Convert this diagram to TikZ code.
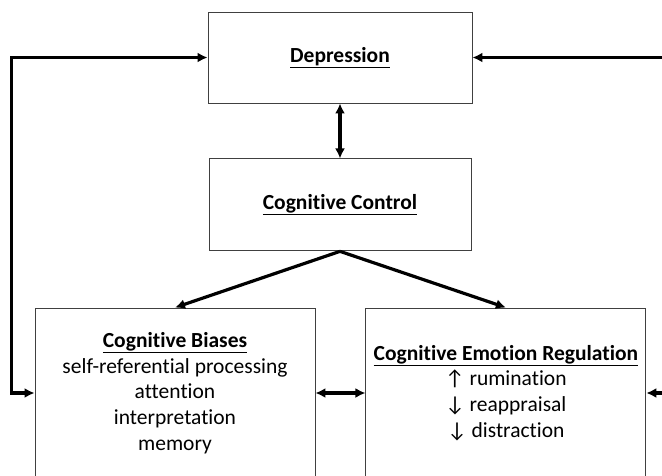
\documentclass[tikz,border=0pt]{standalone}
\usepackage{fontspec}
\setmainfont[Ligatures=NoCommon]{Carlito}
\usetikzlibrary{arrows.meta, positioning}

\begin{document}
\begin{tikzpicture}[x=1pt,y=-1pt,>={Latex[length=10pt,width=10pt]},
  box/.style={draw=black!75, line width=0.9pt, fill=white, align=center, inner sep=0pt,
    font=\fontsize{21.5}{25.8}\selectfont},
  conn/.style={line width=3.2pt}]
\clip (0,0) rectangle (662,475);
%Boxes
\node (d) [box, minimum width=264pt, minimum height=91pt] at (340,57.5) {\underline{\textbf{Depression}}};
\node (c) [box, minimum width=262pt, minimum height=92pt, below=55pt of d] {\underline{\textbf{Cognitive Control}}};
\node (b) [box, minimum width=280pt, minimum height=170pt] at (175,393) {\underline{\textbf{Cognitive Biases}}\\ self-referential processing\\ attention\\ interpretation\\ memory};
\node (e) [box, minimum width=280pt, minimum height=170pt, right=50pt of b] {\underline{\textbf{Cognitive Emotion Regulation}}\\ ↑ rumination\\ ↓ reappraisal\\ ↓ distraction};
\coordinate (rd) at (665,57.5);
\coordinate (re) at (665,393);

%Arrows
\path[conn,->]
(c.south) edge (b.north)
(c.south) edge (e.north)
(rd) edge (d)
(re) edge (e);
\path[conn,<->]
(d) edge (c)
(b) edge (e);
\draw[conn,<->] (b.west) -- ++(-23,0) |- (d.west);
\end{tikzpicture}
\end{document}
